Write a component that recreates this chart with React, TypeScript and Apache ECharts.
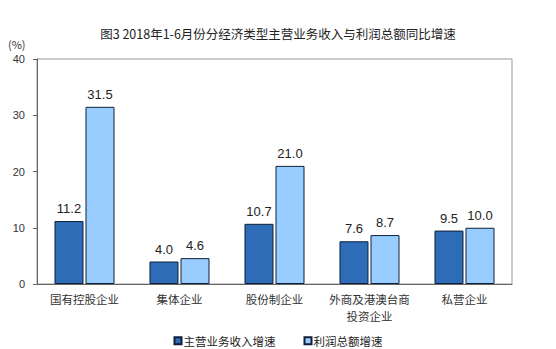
import React, { useEffect, useRef } from "react";
import * as echarts from "echarts";

const categories = ["国有控股企业", "集体企业", "股份制企业", "外商及港澳台商\n投资企业", "私营企业"];
const revenueGrowth = [11.2, 4.0, 10.7, 7.6, 9.5];
const profitGrowth = [31.5, 4.6, 21.0, 8.7, 10.0];
const seriesNames = ["主营业务收入增速", "利润总额增速"];
const title = "图3 2018年1-6月份分经济类型主营业务收入与利润总额同比增速";

const FONT = "'Noto Sans CJK SC', 'Liberation Sans', sans-serif";

export default function App() {
  const ref = useRef<HTMLDivElement>(null);
  useEffect(() => {
    if (!ref.current) return;
    const chart = echarts.init(ref.current, undefined, { renderer: "svg" });
    chart.setOption({
      animation: false,
      backgroundColor: "#ffffff",
      title: {
        text: title,
        left: "center",
        top: 22,
        textStyle: { fontSize: 12.5, fontWeight: "normal", color: "#222", fontFamily: FONT },
      },
      graphic: [
        {
          type: "text",
          left: 8,
          top: 38,
          style: { text: "(%)", fontSize: 11, fill: "#333", fontFamily: FONT },
        },
      ],
      legend: {
        top: 330,
        left: "center",
        itemWidth: 7,
        itemHeight: 7,
        itemGap: 28,
        icon: "rect",
        textStyle: { fontSize: 11.5, color: "#222", fontFamily: FONT, padding: [0, 0, 0, -3] },
        data: seriesNames,
      },
      grid: {
        left: 37,
        right: 44,
        top: 59,
        bottom: 65,
        show: true,
        borderColor: "#999",
        borderWidth: 1,
      },
      xAxis: {
        type: "category",
        data: categories,
        axisLine: { lineStyle: { color: "#666" } },
        axisTick: { show: false },
        axisLabel: { interval: 0, fontSize: 11.5, color: "#333", fontFamily: FONT, margin: 6, lineHeight: 17 },
      },
      yAxis: {
        type: "value",
        min: 0,
        max: 40,
        interval: 10,
        splitLine: { show: false },
        axisLine: { show: true, lineStyle: { color: "#666" } },
        axisTick: { show: true, length: 4, lineStyle: { color: "#666" } },
        axisLabel: { fontSize: 11, color: "#333", fontFamily: "'Liberation Sans', sans-serif", margin: 12 },
      },
      series: [
        {
          name: seriesNames[0],
          type: "bar",
          data: revenueGrowth,
          barWidth: 29,
          barGap: "7%",
          itemStyle: { color: "#2f6cb8", borderColor: "#0f1f3a", borderWidth: 1 },
          label: {
            show: true,
            position: "top",
            formatter: (p: any) => p.value.toFixed(1),
            fontSize: 13,
            color: "#222",
            fontFamily: "'Liberation Sans', sans-serif",
            distance: 6,
          },
        },
        {
          name: seriesNames[1],
          type: "bar",
          data: profitGrowth,
          barWidth: 29,
          itemStyle: { color: "#99ccff", borderColor: "#0f1f3a", borderWidth: 1 },
          label: {
            show: true,
            position: "top",
            formatter: (p: any) => p.value.toFixed(1),
            fontSize: 13,
            color: "#222",
            fontFamily: "'Liberation Sans', sans-serif",
            distance: 6,
          },
        },
      ],
    });
    return () => chart.dispose();
  }, []);
  return <div ref={ref} style={{ width: 556, height: 349, position: "absolute", left: 0, top: 0 }} />;
}
